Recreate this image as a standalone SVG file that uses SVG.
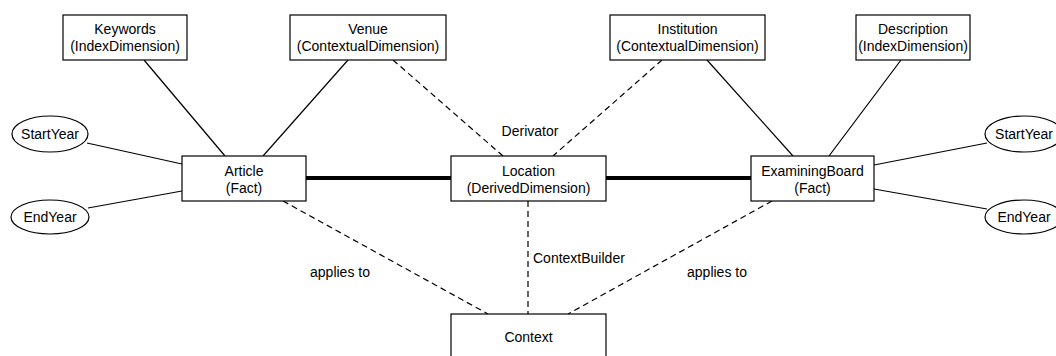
<svg xmlns="http://www.w3.org/2000/svg" width="1056" height="356" viewBox="0 0 1056 356">
<style>
.n { fill: #fff; stroke: #000; stroke-width: 1.2; }
text { font-family: "Liberation Sans", Arial, sans-serif; font-size: 14px; fill: #000; text-anchor: middle; }
.s { stroke: #000; stroke-width: 1.2; fill: none; }
.d { stroke: #000; stroke-width: 1.2; fill: none; stroke-dasharray: 6 4; }
.t { stroke: #000; stroke-width: 4; fill: none; }
</style>
<rect width="1056" height="356" fill="#fff"/>
<g id="connectors">
<line class="s" x1="144" y1="60" x2="225" y2="156"/>
<line class="s" x1="348" y1="60" x2="263" y2="156"/>
<line class="d" x1="393" y1="60" x2="503" y2="156"/>
<line class="d" x1="662" y1="60" x2="553" y2="156"/>
<line class="s" x1="707" y1="60" x2="793" y2="156"/>
<line class="s" x1="901" y1="60" x2="829" y2="156"/>
<line class="s" x1="87" y1="143" x2="182" y2="164"/>
<line class="s" x1="88" y1="208" x2="182" y2="191"/>
<line class="s" x1="874" y1="165" x2="987" y2="143"/>
<line class="s" x1="874" y1="189" x2="987" y2="209"/>
<line class="t" x1="306" y1="178" x2="451" y2="178"/>
<line class="t" x1="606" y1="178" x2="751" y2="178"/>
<line class="d" x1="283" y1="201" x2="488" y2="314"/>
<line class="d" x1="528" y1="201" x2="528" y2="314"/>
<line class="d" x1="772" y1="201" x2="568" y2="314"/>
<text x="530" y="136">Derivator</text>
<text x="533" y="263" style="text-anchor:start">ContextBuilder</text>
<text x="340" y="277">applies to</text>
<text x="717" y="277">applies to</text>
</g>
<g id="keywords"><rect class="n" x="63" y="15" width="124" height="45"/><text x="125" y="34">Keywords</text><text x="125" y="51">(IndexDimension)</text></g>
<g id="venue"><rect class="n" x="290" y="15" width="156" height="45"/><text x="368" y="34">Venue</text><text x="368" y="51">(ContextualDimension)</text></g>
<g id="institution"><rect class="n" x="610" y="15" width="155" height="45"/><text x="687.5" y="34">Institution</text><text x="687.5" y="51">(ContextualDimension)</text></g>
<g id="description"><rect class="n" x="856" y="15" width="114" height="45"/><text x="913" y="34">Description</text><text x="913" y="51">(IndexDimension)</text></g>
<g id="article"><rect class="n" x="182" y="156" width="124" height="45"/><text x="244" y="175.5">Article</text><text x="244" y="192.5">(Fact)</text></g>
<g id="location"><rect class="n" x="451" y="156" width="155" height="45"/><text x="528.5" y="175.5">Location</text><text x="528.5" y="192.5">(DerivedDimension)</text></g>
<g id="examiningboard"><rect class="n" x="751" y="156" width="123" height="45"/><text x="812.5" y="175.5">ExaminingBoard</text><text x="812.5" y="192.5">(Fact)</text></g>
<g id="context"><rect class="n" x="451" y="314" width="155" height="50"/><text x="528.5" y="342">Context</text></g>
<g id="startyear-left"><ellipse class="n" cx="50" cy="134" rx="38" ry="18"/><text x="50" y="139">StartYear</text></g>
<g id="endyear-left"><ellipse class="n" cx="50" cy="217" rx="39" ry="17"/><text x="50" y="222">EndYear</text></g>
<g id="startyear-right"><ellipse class="n" cx="1024" cy="134" rx="39" ry="18"/><text x="1024" y="139">StartYear</text></g>
<g id="endyear-right"><ellipse class="n" cx="1024" cy="217" rx="39" ry="17"/><text x="1024" y="222">EndYear</text></g>
</svg>
